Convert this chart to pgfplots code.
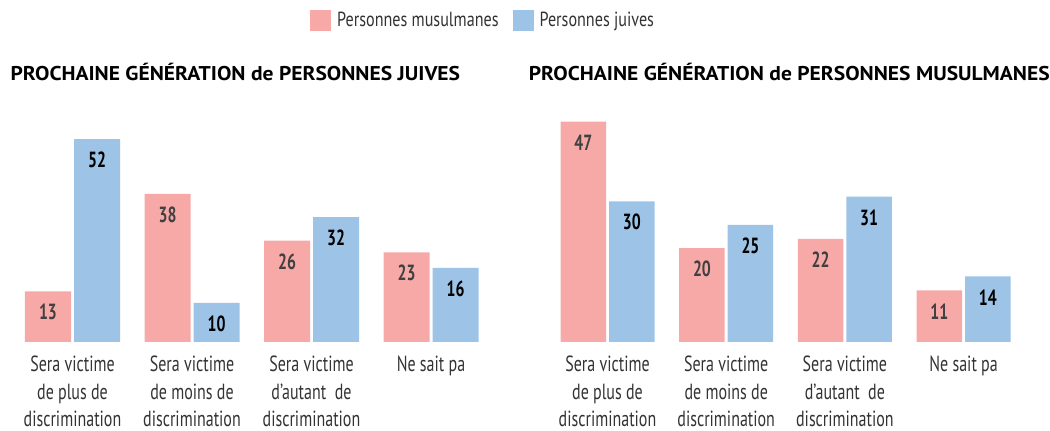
\documentclass[border=0pt]{standalone}
\usepackage{pgfplots}
\pgfplotsset{compat=1.18}
\usepackage{fontspec}
\setmainfont{PT Sans}
\newfontfamily\condfont{PT Sans}[FakeStretch=0.73]
\newfontfamily\legfont{PT Sans}[FakeStretch=0.79]
\newfontfamily\numfont{PT Sans}[FakeStretch=0.72]
\newfontfamily\titlefont{PT Sans}[FakeStretch=1.08]
\definecolor{pinkbar}{HTML}{F7A9A8}
\definecolor{bluebar}{HTML}{9DC3E6}
\definecolor{txt}{HTML}{333333}
\definecolor{numpink}{HTML}{404040}

\pgfplotsset{
  panel/.style={
    scale only axis, height=242bp, ymin=0,
    ybar, xmin=-0.5, xmax=3.5, xtick={0,1,2,3},
    xticklabels={{Sera victime\\de plus de\\discrimination},{Sera victime\\de moins de\\discrimination},{Sera victime\\d’autant\ \ de\\discrimination},{Ne sait pa}},
    ytick=\empty, axis line style={draw=none}, major tick length=0pt,
    xticklabel style={align=center, font=\condfont\fontsize{22}{27.5}\selectfont, text=txt, anchor=north, yshift=-10.5bp},
    clip=false,
    /pgf/number format/assume math mode=true,
    title style={anchor=west, font=\titlefont\bfseries\fontsize{20}{22}\selectfont, text=black},
    legend image code/.code={\fill[##1] (0bp,-10.5bp) rectangle (21bp,10.5bp);},
  },
  pinkplot/.style={fill=pinkbar, draw=none, nodes near coords, point meta=explicit,
    every node near coord/.append style={font=\numfont\bfseries\fontsize{22}{22}\selectfont, text=numpink, anchor=center, yshift=-21bp}},
  blueplot/.style={fill=bluebar, draw=none, nodes near coords, point meta=explicit,
    every node near coord/.append style={font=\numfont\bfseries\fontsize{22}{22}\selectfont, text=black, anchor=center, yshift=-21bp}},
}

% bar heights (pink, blue) and printed labels (pinklab, bluelab)
\pgfplotstableread{
x pink blue pinklab bluelab
0 13 52 13 52
1 38 10 38 10
2 26 32 26 32
3 23 19 23 16
}\juives
\pgfplotstableread{
x pink blue pinklab bluelab
0 47 30 47 30
1 20 25 20 25
2 22 31 22 31
3 11 14 11 14
}\musulmanes

\begin{document}
\begin{tikzpicture}
\path[use as bounding box] (0,0) rectangle (1050bp,431bp);
\begin{axis}[panel, at={(12.75bp,89bp)}, anchor=south west, width=478bp, ymax=62.05,
  bar width=46bp,
  title={PROCHAINE GÉNÉRATION de PERSONNES JUIVES},
  title style={at={(axis description cs:-0.012,1.091)}},
  legend columns=2,
  legend style={draw=none, at={(axis description cs:0.984,1.33)}, anchor=center,
    font=\legfont\fontsize{20.5}{22}\selectfont, text=txt, inner sep=0pt,
    /tikz/every odd column/.append style={column sep=4bp},
    /tikz/every even column/.append style={column sep=12bp}},
]
\addplot[pinkplot, bar shift=-24.5bp] table[x=x, y=pink, meta=pinklab] {\juives};
\addlegendentry{Personnes musulmanes}
\addplot[blueplot, bar shift=24.5bp] table[x=x, y=blue, meta=bluelab] {\juives};
\addlegendentry{Personnes juives}
\end{axis}
\begin{axis}[panel, at={(548.15bp,89bp)}, anchor=south west, width=474.8bp, ymax=51.6,
  bar width=45.5bp,
  title={PROCHAINE GÉNÉRATION de PERSONNES MUSULMANES},
  title style={at={(axis description cs:-0.048,1.091)}},
]
\addplot[pinkplot, bar shift=-24.25bp] table[x=x, y=pink, meta=pinklab] {\musulmanes};
\addplot[blueplot, bar shift=24.25bp] table[x=x, y=blue, meta=bluelab] {\musulmanes};
\end{axis}
\end{tikzpicture}
\end{document}
